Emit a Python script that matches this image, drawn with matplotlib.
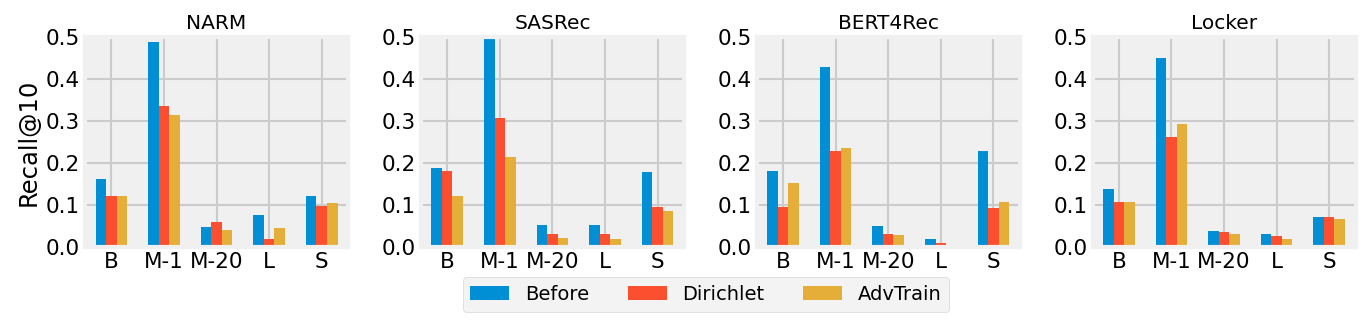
import matplotlib as mpl
mpl.use('Agg')
import matplotlib.pyplot as plt
import numpy as np

plt.style.use('fivethirtyeight')

models = ['NARM', 'SASRec', 'BERT4Rec', 'Locker']
attacks = ['B', 'M-1', 'M-20', 'L', 'S']
methods = ['Before', 'Dirichlet', 'AdvTrain']
colors = ['#008fd5', '#fc4f30', '#e5ae38']

# Recall@10 per model, rows = attack, cols = method
narm = [[0.161, 0.121, 0.121],
        [0.488, 0.336, 0.314],
        [0.047, 0.060, 0.041],
        [0.076, 0.019, 0.045],
        [0.121, 0.098, 0.105]]
sasrec = [[0.188, 0.181, 0.121],
          [0.495, 0.307, 0.214],
          [0.052, 0.030, 0.021],
          [0.052, 0.030, 0.018],
          [0.178, 0.095, 0.085]]
bert4rec = [[0.181, 0.095, 0.152],
            [0.429, 0.228, 0.235],
            [0.049, 0.030, 0.028],
            [0.018, 0.009, 0.005],
            [0.228, 0.092, 0.107]]
locker = [[0.138, 0.107, 0.107],
          [0.450, 0.262, 0.293],
          [0.037, 0.035, 0.030],
          [0.030, 0.025, 0.018],
          [0.071, 0.071, 0.066]]
data = [narm, sasrec, bert4rec, locker]

fig, axes = plt.subplots(1, 4, figsize=(13.72, 3.3), dpi=100)
fig.subplots_adjust(left=0.062, right=0.988, top=0.887, bottom=0.2524, wspace=0.277)

x = np.arange(len(attacks))
w = 0.2
for ax, name, vals in zip(axes, models, data):
    vals = np.array(vals)
    for j, m in enumerate(methods):
        ax.bar(x + (j - 1) * w, vals[:, j], w, color=colors[j], label=m)
    ax.set_axisbelow(True)
    ax.grid(True, linewidth=1.5, color='#cbcbcb')
    ax.set_title(name, fontsize=14.5)
    ax.set_xticks(x)
    ax.set_xticklabels(attacks)
    ax.set_ylim(0, 0.5)
    ax.set_yticks([0, 0.1, 0.2, 0.3, 0.4, 0.5])
    ax.set_xlim(-0.5, 4.5)
    ax.tick_params(labelsize=15.5)

axes[0].set_ylabel('Recall@10', fontsize=17.5)

handles, labels = axes[0].get_legend_handles_labels()
fig.legend(handles, labels, loc='upper center', bbox_to_anchor=(706 / 1372, 0.16),
           ncol=3, fontsize=14, borderaxespad=0)

fig.savefig('out.png', facecolor='white')
